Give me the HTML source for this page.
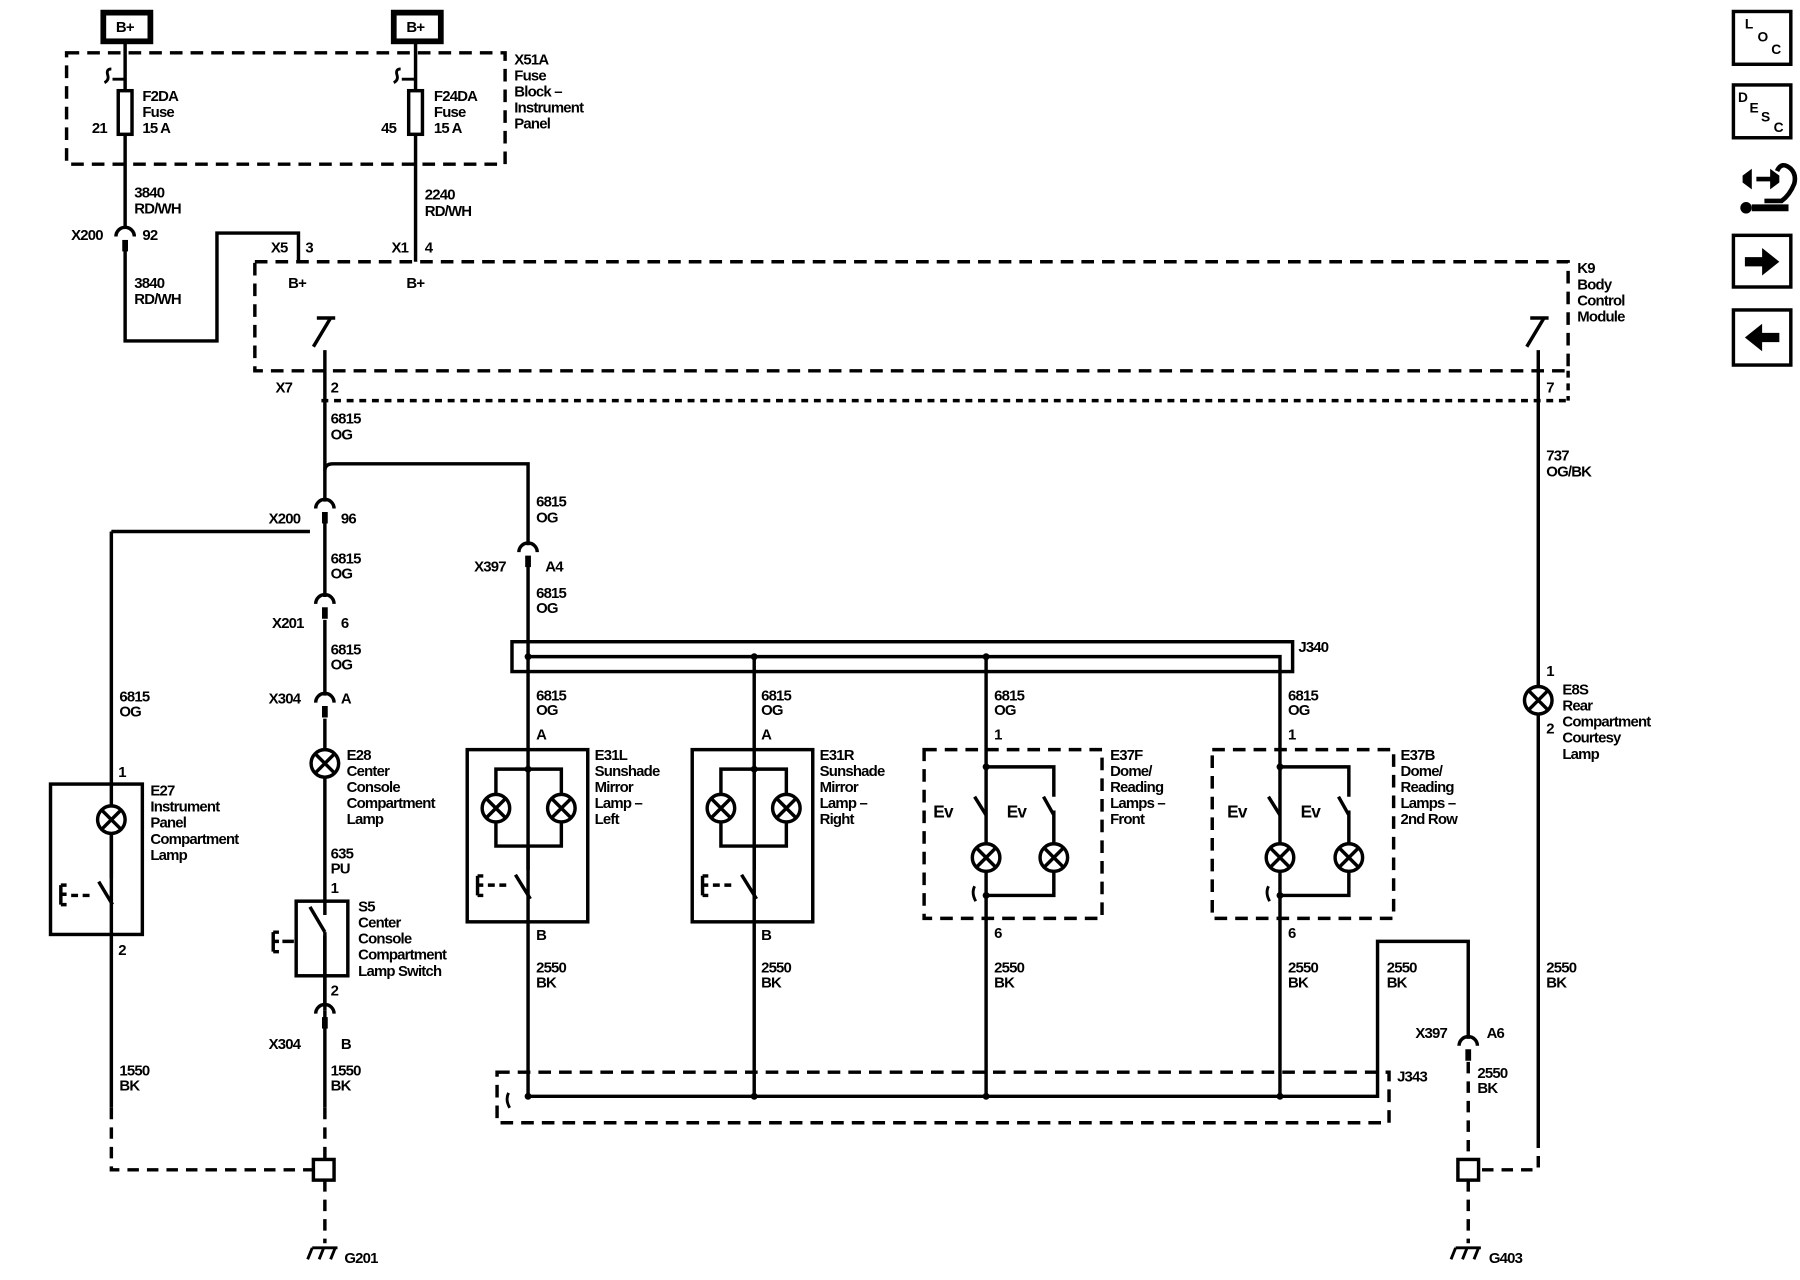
<!DOCTYPE html>
<html><head><meta charset="utf-8"><style>
html,body{margin:0;padding:0;background:#fff;}
svg{display:block;}
text{font-family:"Liberation Sans",sans-serif;font-size:13px;font-weight:bold;fill:#000;letter-spacing:-0.7px;}
</style></head><body>
<svg width="1800" height="1280" viewBox="0 0 1568 1115" preserveAspectRatio="none" xmlns="http://www.w3.org/2000/svg">
<defs>
<g id="lamp"><circle cx="0" cy="0" r="12" fill="#fff" stroke="#000" stroke-width="3"/><path d="M-8,-8L8,8M8,-8L-8,8" stroke="#000" stroke-width="3"/></g>
<g id="conn"><path d="M-8,6 A8,8 0 0 1 8,6" fill="none" stroke="#000" stroke-width="3"/><rect x="-2.5" y="9" width="5" height="10" fill="#000"/></g>
<g id="gnd"><path d="M-8,0 L14,0 M-8,0 L-12,10 M2,0 L-2,10 M12,0 L8,10" stroke="#000" stroke-width="2.5" fill="none"/></g>
</defs>
<g fill="none" stroke="#000" stroke-width="3">
<rect x="90" y="11" width="41" height="25" stroke-width="5"/>
<rect x="343" y="11" width="41" height="25" stroke-width="5"/>
<rect x="58" y="46" width="382" height="97" stroke-dasharray="11,7"/>
<path d="M109,36V197 M109,212V297H189V203H260V228"/>
<path d="M362,36V228"/>
<rect x="103" y="79" width="12" height="38" fill="#fff"/>
<rect x="356" y="79" width="12" height="38" fill="#fff"/>
<path d="M109,69H98 M97,60 Q92,60 94,66 Q95,70 91,72 M350,69H361 M349,60 Q344,60 346,66 Q347,70 343,72" stroke-width="2.5"/>
<rect x="222" y="228" width="1144" height="95" stroke-dasharray="11,7"/>
<path d="M280,349H1366 M1366,323V349" stroke-dasharray="6,5"/>
<path d="M276,277H292 M288,277L273,302 M283,305V437"/>
<path d="M1333,277H1349 M1345,277L1330,302 M1340,305V990"/>
<path d="M283,410Q283,404 290,404H460V475"/>
<path d="M97,463H270 M97,463V965" />
<path d="M97,965V1019H273" stroke-dasharray="10,7"/>
<path d="M283,453V520 M283,540V606 M283,626V797 M283,815V877"/>
<rect x="258" y="785" width="45" height="65"/>
<path d="M270,790L283,812 M283,812V850 M283,850V880"/>
<path d="M283,880V965"/>
<path d="M283,965V1010 M283,1028V1083" stroke-dasharray="10,7"/>
<rect x="273" y="1010" width="18" height="18"/>
<rect x="44" y="683" width="80" height="131"/>
<path d="M97,726V765 M86,768L98,788"/>
<path d="M53,771V788 M53,771H58 M53,779H58 M53,788H58 M62,780H68 M72,780H78" stroke-width="3"/>
<path d="M238,812V829 M238,812H243 M238,820H243 M238,829H243 M246,820H256"/>
<rect x="446" y="559" width="680" height="26"/>
<path d="M460,572H1115V955 M460,490V955 M657,572V955 M859,572V955"/>
<rect x="407" y="653" width="105" height="150"/>
<path d="M432,670H489V737H432Z M460,737V758 M449,762L462,783"/>
<path d="M416,763V780 M416,763H421 M416,771H421 M416,780H421 M425,771H431 M435,771H441"/>
<rect x="603" y="653" width="105" height="150"/>
<path d="M628,670H685V737H628Z M657,737V758 M646,762L659,783"/>
<path d="M612,763V780 M612,763H617 M612,771H617 M612,780H617 M621,771H627 M631,771H637"/>
<rect x="805" y="653" width="155" height="147" stroke-dasharray="11,7"/>
<path d="M859,668H918V694 M918,706V780H859 M849,694L859,710 M909,694L918,710"/>
<path d="M850,785 Q846,778 849,772" stroke-width="2.5"/>
<rect x="1056" y="653" width="158" height="147" stroke-dasharray="11,7"/>
<path d="M1115,668H1175V694 M1175,706V780H1115 M1105,694L1115,710 M1166,694L1175,710"/>
<path d="M1106,785 Q1102,778 1105,772" stroke-width="2.5"/>
<rect x="433" y="934" width="777" height="44" stroke-dasharray="11,7"/>
<path d="M460,955H1200V820H1279V905"/>
<path d="M444,965 Q440,958 443,952" stroke-width="2.5"/>
<path d="M1279,925V1010 M1279,1028V1083 M1340,990V1019H1288" stroke-dasharray="10,7"/>
<rect x="1270" y="1010" width="18" height="18"/>
<rect x="1510" y="10" width="50" height="46"/>
<rect x="1510" y="74" width="50" height="46"/>
<rect x="1510" y="205" width="50" height="45"/>
<rect x="1510" y="270" width="50" height="48"/>
<path d="M1530,156H1547 M1548,149Q1552,140 1560,147Q1565,152 1563,160Q1559,170 1552,175H1537" stroke-width="4"/>
<path d="M1526,181H1558" stroke-width="6"/>
</g>
<path d="M1518,153L1526,147V165L1518,159Z M1542,147L1550,153V159L1542,165Z" fill="#000"/>
<circle cx="1521" cy="181" r="5" fill="#000"/>
<path d="M1520,224H1535V216L1550,228L1535,240V232H1520Z" fill="#000"/>
<path d="M1550,290H1535V282L1520,294L1535,306V298H1550Z" fill="#000"/>
<g fill="#000"><circle cx="460" cy="572" r="3"/><circle cx="657" cy="572" r="3"/><circle cx="859" cy="572" r="3"/><circle cx="460" cy="670" r="3"/><circle cx="657" cy="670" r="3"/><circle cx="859" cy="668" r="3"/><circle cx="1115" cy="668" r="3"/><circle cx="859" cy="780" r="3"/><circle cx="1115" cy="780" r="3"/><circle cx="460" cy="955" r="3"/><circle cx="657" cy="955" r="3"/><circle cx="859" cy="955" r="3"/><circle cx="1115" cy="955" r="3"/></g>
<use href="#conn" x="109" y="200"/>
<use href="#conn" x="283" y="437"/>
<use href="#conn" x="283" y="520"/>
<use href="#conn" x="283" y="606"/>
<use href="#conn" x="283" y="877"/>
<use href="#conn" x="460" y="475"/>
<use href="#conn" x="1279" y="905"/>
<use href="#lamp" x="97" y="714"/>
<use href="#lamp" x="283" y="665"/>
<use href="#lamp" x="432" y="704"/><use href="#lamp" x="489" y="704"/>
<use href="#lamp" x="628" y="704"/><use href="#lamp" x="685" y="704"/>
<use href="#lamp" x="859" y="747"/><use href="#lamp" x="918" y="747"/>
<use href="#lamp" x="1115" y="747"/><use href="#lamp" x="1175" y="747"/>
<use href="#lamp" x="1340" y="610"/>
<use href="#gnd" x="280" y="1087"/>
<use href="#gnd" x="1276" y="1087"/>
<text x="101" y="28">B+</text><text x="354" y="28">B+</text>
<text x="124" y="88">F2DA</text><text x="124" y="102">Fuse</text><text x="124" y="116">15 A</text><text x="80" y="116">21</text>
<text x="378" y="88">F24DA</text><text x="378" y="102">Fuse</text><text x="378" y="116">15 A</text><text x="332" y="116">45</text>
<text x="448" y="56">X51A</text><text x="448" y="70">Fuse</text><text x="448" y="84">Block –</text><text x="448" y="98">Instrument</text><text x="448" y="112">Panel</text>
<text x="117" y="172">3840</text><text x="117" y="186">RD/WH</text>
<text x="62" y="209">X200</text><text x="124" y="209">92</text>
<text x="117" y="251">3840</text><text x="117" y="265">RD/WH</text>
<text x="370" y="174">2240</text><text x="370" y="188">RD/WH</text>
<text x="236" y="220">X5</text><text x="266" y="220">3</text><text x="341" y="220">X1</text><text x="370" y="220">4</text>
<text x="251" y="251">B+</text><text x="354" y="251">B+</text>
<text x="1374" y="238">K9</text><text x="1374" y="252">Body</text><text x="1374" y="266">Control</text><text x="1374" y="280">Module</text>
<text x="240" y="342">X7</text><text x="288" y="342">2</text><text x="1347" y="342">7</text>
<text x="288" y="369">6815</text><text x="288" y="383">OG</text>
<text x="1347" y="401">737</text><text x="1347" y="415">OG/BK</text>
<text x="467" y="441">6815</text><text x="467" y="455">OG</text>
<text x="234" y="456">X200</text><text x="297" y="456">96</text>
<text x="288" y="491">6815</text><text x="288" y="504">OG</text>
<text x="413" y="498">X397</text><text x="475" y="498">A4</text>
<text x="467" y="521">6815</text><text x="467" y="534">OG</text>
<text x="237" y="547">X201</text><text x="297" y="547">6</text>
<text x="288" y="570">6815</text><text x="288" y="583">OG</text>
<text x="1131" y="568">J340</text>
<text x="104" y="611">6815</text><text x="104" y="624">OG</text>
<text x="234" y="613">X304</text><text x="297" y="613">A</text>
<text x="467" y="610">6815</text><text x="467" y="623">OG</text><text x="663" y="610">6815</text><text x="663" y="623">OG</text>
<text x="866" y="610">6815</text><text x="866" y="623">OG</text><text x="1122" y="610">6815</text><text x="1122" y="623">OG</text>
<text x="1347" y="589">1</text><text x="1347" y="639">2</text>
<text x="1361" y="605">E8S</text><text x="1361" y="619">Rear</text><text x="1361" y="633">Compartment</text><text x="1361" y="647">Courtesy</text><text x="1361" y="661">Lamp</text>
<text x="467" y="644">A</text><text x="663" y="644">A</text><text x="866" y="644">1</text><text x="1122" y="644">1</text>
<text x="302" y="662">E28</text><text x="302" y="676">Center</text><text x="302" y="690">Console</text><text x="302" y="704">Compartment</text><text x="302" y="718">Lamp</text>
<text x="518" y="662">E31L</text><text x="518" y="676">Sunshade</text><text x="518" y="690">Mirror</text><text x="518" y="704">Lamp –</text><text x="518" y="718">Left</text>
<text x="714" y="662">E31R</text><text x="714" y="676">Sunshade</text><text x="714" y="690">Mirror</text><text x="714" y="704">Lamp –</text><text x="714" y="718">Right</text>
<text x="967" y="662">E37F</text><text x="967" y="676">Dome/</text><text x="967" y="690">Reading</text><text x="967" y="704">Lamps –</text><text x="967" y="718">Front</text>
<text x="1220" y="662">E37B</text><text x="1220" y="676">Dome/</text><text x="1220" y="690">Reading</text><text x="1220" y="704">Lamps –</text><text x="1220" y="718">2nd Row</text>
<text x="103" y="677">1</text>
<text x="131" y="693">E27</text><text x="131" y="707">Instrument</text><text x="131" y="721">Panel</text><text x="131" y="735">Compartment</text><text x="131" y="749">Lamp</text>
<text x="813" y="712" style="font-size:15px">Ev</text><text x="877" y="712" style="font-size:15px">Ev</text>
<text x="1069" y="712" style="font-size:15px">Ev</text><text x="1133" y="712" style="font-size:15px">Ev</text>
<text x="288" y="748">635</text><text x="288" y="761">PU</text><text x="288" y="778">1</text>
<text x="312" y="794">S5</text><text x="312" y="808">Center</text><text x="312" y="822">Console</text><text x="312" y="836">Compartment</text><text x="312" y="850">Lamp Switch</text>
<text x="103" y="832">2</text><text x="467" y="819">B</text><text x="663" y="819">B</text><text x="866" y="817">6</text><text x="1122" y="817">6</text>
<text x="467" y="847">2550</text><text x="467" y="860">BK</text><text x="663" y="847">2550</text><text x="663" y="860">BK</text>
<text x="866" y="847">2550</text><text x="866" y="860">BK</text><text x="1122" y="847">2550</text><text x="1122" y="860">BK</text>
<text x="1208" y="847">2550</text><text x="1208" y="860">BK</text><text x="1347" y="847">2550</text><text x="1347" y="860">BK</text>
<text x="288" y="867">2</text>
<text x="1233" y="904">X397</text><text x="1295" y="904">A6</text>
<text x="234" y="914">X304</text><text x="297" y="914">B</text>
<text x="104" y="937">1550</text><text x="104" y="950">BK</text><text x="288" y="937">1550</text><text x="288" y="950">BK</text>
<text x="1287" y="939">2550</text><text x="1287" y="952">BK</text>
<text x="1217" y="942">J343</text>
<text x="300" y="1100">G201</text><text x="1297" y="1100">G403</text>
<text x="1520" y="25" style="font-size:12px">L</text><text x="1531" y="36" style="font-size:12px">O</text><text x="1543" y="47" style="font-size:12px">C</text>
<text x="1514" y="89" style="font-size:12px">D</text><text x="1524" y="98" style="font-size:12px">E</text><text x="1534" y="106" style="font-size:12px">S</text><text x="1545" y="115" style="font-size:12px">C</text>
</svg>
</body></html>
